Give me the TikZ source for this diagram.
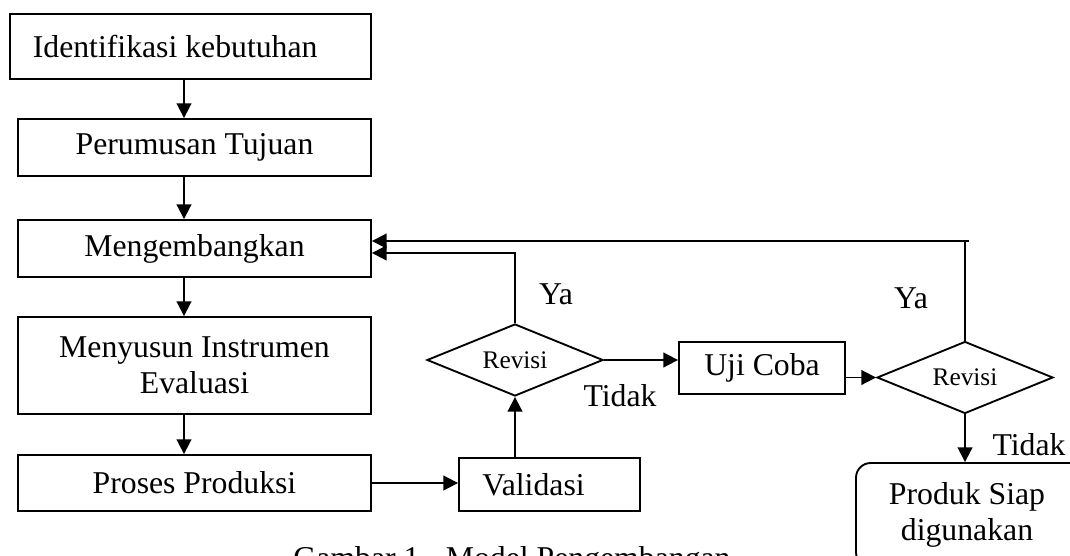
\documentclass[tikz,border=0pt]{standalone}
\usepackage{fontspec}
\setmainfont{Liberation Serif}
\usetikzlibrary{shapes.geometric,arrows.meta,calc}
\begin{document}
\begin{tikzpicture}[x=0.75pt,y=-0.75pt,
  every node/.style={font=\fontsize{23.8}{27}\selectfont},
  box/.style={draw, line width=1.4pt, rectangle, inner sep=0pt, align=center},
  dec/.style={draw, line width=1.4pt, diamond, aspect=2.44, inner sep=0pt, minimum width=132pt, minimum height=54pt, font=\fontsize{19}{22}\selectfont},
  arr/.style={line width=1.4pt, -{Triangle[length=11pt,width=11pt]}},
  conn/.style={line width=1.4pt},
  lbl/.style={inner sep=0pt}]
\useasboundingbox (0,0) rectangle (1070,556);
\clip (0,0) rectangle (1070,556);

% left column
\node[box, minimum width=270.75pt, minimum height=48.75pt] (b1) at (190.5,46.5) {\hspace*{-23pt}Identifikasi kebutuhan};
\node[box, minimum width=264.75pt, minimum height=42.75pt] (b2) at (194.5,147.5) {Perumusan Tujuan};
\node[box, minimum width=264.75pt, minimum height=42.75pt] (b3) at (194.5,248.5) {Mengembangkan};
\node[box, minimum width=264.75pt, minimum height=72.75pt] (b4) at (194.5,365.5) {Menyusun Instrumen\\Evaluasi};
\node[box, minimum width=264.75pt, minimum height=42pt] (b5) at (194.5,483) {Proses Produksi};

% middle / right
\node[box, minimum width=135.75pt, minimum height=39.75pt] (val) at (549.5,484.5) {\hspace*{-24pt}Validasi};
\node[dec] (d1) at (515,360) {Revisi};
\node[box, minimum width=124.5pt, minimum height=39pt] (uji) at (762,368) {Uji Coba};
\node[dec] (d2) at (965,377.5) {Revisi};
\node[box, rounded corners=11pt, minimum width=174pt, minimum height=78pt] (prod) at (972,515) {\hspace*{-7.5pt}Produk Siap\\\hspace*{-7.5pt}digunakan};

% labels
\node[lbl] (ya1) at (556,294) {Ya};
\node[lbl] (td1) at (620,395.5) {Tidak};
\node[lbl] (ya2) at (911,298) {Ya};
\node[lbl] (td2) at (1029,444.5) {Tidak};

% caption
\node[lbl, anchor=base] (cap) at (512,568) {Gambar 1.~ Model Pengembangan};

% helper coordinates
\coordinate (xa) at (184,0);
\coordinate (yA) at (0,253);
\coordinate (yB) at (0,241);

% connectors
\draw[arr] (b1.south -| xa) -- (b2.north -| xa);
\draw[arr] (b2.south -| xa) -- (b3.north -| xa);
\draw[arr] (b3.south -| xa) -- (b4.north -| xa);
\draw[arr] (b4.south -| xa) -- (b5.north -| xa);
\draw[arr] (b5.east) -- (b5.east -| val.west);
\draw[arr] (val.north -| d1.south) -- (d1.south);
\draw[arr] (d1.north) |- (b3.east |- yA);
\draw[arr] (d1.east) -- (uji.west |- d1.east);
\draw[arr] (uji.east |- d2.west) -- (d2.west);
\draw[conn] (d2.north) -- (d2.north |- yB) -- ++(4,0);
\draw[arr] (d2.north |- yB) -- (b3.east |- yB);
\draw[arr] (d2.south) -- (prod.north -| d2.south);
\end{tikzpicture}
\end{document}
